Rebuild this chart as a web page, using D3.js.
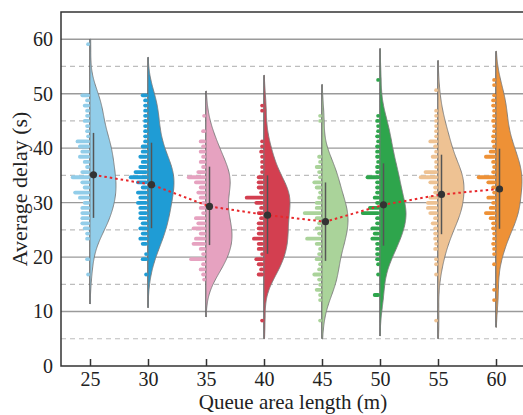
<!DOCTYPE html>
<html>
<head>
<meta charset="utf-8">
<script src="https://cdn.jsdelivr.net/npm/d3@7"></script>
<style>
  body { margin: 0; background: #fff; }
  svg { display: block; font-family: "Liberation Serif", "Times New Roman", serif; }
</style>
</head>
<body>
<div id="chart"></div>
<script>
// queue area length groups
const lengths = [25, 30, 35, 40, 45, 50, 55, 60];
const colors = ["#92cde9", "#1f9cd5", "#e6a2c0", "#d33f50", "#aad39a", "#2ea54c", "#eec293", "#ee9136"];
const means = [35.1, 33.3, 29.3, 27.7, 26.5, 29.6, 31.5, 32.5];
const q1 = [27.2, 25.3, 22.2, 20.6, 19.3, 22.1, 24.2, 25.2];
const q3 = [42.8, 41.0, 36.6, 35.0, 33.7, 37.2, 38.8, 39.9];
const lineMin = [11.4, 10.7, 9.0, 5.0, 5.0, 5.5, 5.0, 7.1];
const lineMax = [60.0, 56.7, 50.5, 53.4, 51.7, 58.3, 56.1, 57.8];
const yTicks = [0, 10, 20, 30, 40, 50, 60];
const yMinor = [5, 15, 25, 35, 45, 55];

// histogram of delays, same bins for every group: first bin at 59.1 s, 0.94 s apart
const binTop = 59.1, binStep = 0.94;
const counts25 = [1, 0,0,0,0,0,0,0,0,0, 4,2,3,2,2,3,2,2,1,6, 5,4,5,3,2,4,8,4,3,7, 5,3,4,4,4,4,3,2,2, 0,0,0, 2, 0,0, 1, 0,0,0,0,0,0,0,0,0];
const counts30 = [0,0,0,0,0,0,0,0,0,0, 3,2,2,2,2,2,2,2,2,2, 3,3,4,3,4,6,8,5,3,5, 4,5,4,4,4,3,4,3,4, 3,0,1,3,0,0,1, 0,0,0,0,0,0,0,0,0];
const counts35 = [0,0,0,0,0,0,0,0,0,0,0,0,0,0, 1,0,0,2,0, 3,2,3,2,3,2,4,8,5,3, 4,3,2,3,2,5,4,6,3,5, 6,3,2,7,2,3,2,1, 0,0,0,0,0,0,0,0];
const counts40 = [0,0,0,0,0,0,0,0,0,0,0,0, 1,1, 0,0,0,0,0, 1,1,2,1,1,1,1,3,3,3, 2,8,4,2,3,2,3,3,3,5, 3,3,1,4,3,2,3, 0,0,0,0,0,0,0,0, 1];
const counts45 = [0,0,0,0,0,0,0,0,0,0,0,0,0,0, 1,1, 0,0,0,0,0,0, 2,1,3,2,1,4,3,1,2,3, 3,8,3,2,3,2,7,3,1,2, 3,1,2,4,2,1,3,1,1, 0,0,0, 1];
const counts50 = [0,0,0,0,0,0,0, 1, 0,0,0,0,0,0, 1,2,1,1,2,1,2,2,2,1, 2,2,6,2,2,2,3,2,5,8, 2,2,4,3,4,2,2,2,2,1, 0, 1, 0,0,0, 3, 0,0,0,0,0];
const counts55 = [0,0,0,0,0,0,0,0,0, 1, 0,0,0, 1,1,1,1,1,1,4,2,1,3, 1,1,6,8,4,2,2,4,5,5, 4,2,3,2,2,2,1,2, 0, 1, 1, 0, 1, 0,0,0,0,0,0,0,0, 1];
const counts60 = [0,0,0,0,0,0,0, 1,1,0,1,2,2,1,1,2,1, 1,2,2,1,3,5,2,1,2,8, 4,2,1,4,2,3,5,3,2,2, 1,1,2,1,1, 0, 1, 0,0,0,0, 1, 0, 1, 0,0,0,0];
const counts = [counts25, counts30, counts35, counts40, counts45, counts50, counts55, counts60];

const width = 523, height = 415;
const margin = {top: 12, left: 61, bottom: 366, right: 525};

const svg = d3.select("#chart").append("svg")
    .attr("width", width)
    .attr("height", height);

const x = d3.scaleLinear().domain([22.5, 62.5]).range([margin.left, margin.right]);
const y = d3.scaleLinear().domain([0, 65]).range([margin.bottom, margin.top]);
const barLen = d3.scaleLinear().domain([0, 1]).range([0, 2.4]);   // px per count
const halfWidth = 26;
const bw = 3.1;

// grid
svg.append("g").selectAll("line").data(yMinor).enter().append("line")
    .attr("x1", margin.left).attr("x2", margin.right)
    .attr("y1", d => y(d)).attr("y2", d => y(d))
    .attr("stroke", "#bdbdbd").attr("stroke-width", 1.2)
    .attr("stroke-dasharray", "5,4");
svg.append("g").selectAll("line").data(yTicks.slice(1)).enter().append("line")
    .attr("x1", margin.left).attr("x2", margin.right)
    .attr("y1", d => y(d)).attr("y2", d => y(d))
    .attr("stroke", "#9a9a9a").attr("stroke-width", 1.4);

// one group per queue length
lengths.forEach((len, g) => {
  const cx = x(len);
  const bins = counts[g].map((c, j) => ({v: binTop - j * binStep, c: c})).filter(b => b.c > 0);

  // kernel density of the binned delays
  const kde = v => d3.sum(bins, b => b.c * Math.exp(-0.5 * Math.pow((v - b.v) / bw, 2)));
  const ys = d3.range(lineMin[g], lineMax[g], 0.2).concat([lineMax[g]]);
  const dens = ys.map(v => ({v: v, d: kde(v)}));
  const maxD = d3.max(dens, d => d.d);
  const w = d3.scaleLinear().domain([0, maxD]).range([0, halfWidth]);

  const grp = svg.append("g");

  grp.append("line")
      .attr("x1", cx).attr("x2", cx)
      .attr("y1", y(lineMin[g])).attr("y2", y(lineMax[g]))
      .attr("stroke", "#3a3a3a").attr("stroke-width", 1.2);

  const area = d3.area()
      .y(d => y(d.v))
      .x0(cx)
      .x1(d => cx + w(d.d))
      .curve(d3.curveBasis);

  grp.append("path")
      .datum(dens)
      .attr("d", area)
      .attr("fill", colors[g])
      .attr("stroke", "#7a7a7a")
      .attr("stroke-width", 0.9);

  // histogram bars to the left
  const cap = 1.9;
  grp.selectAll(".bar").data(bins).enter().append("line")
      .attr("class", "bar")
      .attr("x1", cx - cap)
      .attr("x2", d => Math.min(cx - cap, cx - barLen(d.c) + cap))
      .attr("y1", d => y(d.v)).attr("y2", d => y(d.v))
      .attr("stroke", colors[g])
      .attr("stroke-width", 3.8)
      .attr("stroke-linecap", "round");

  // interquartile range
  grp.append("line")
      .attr("x1", cx + 3.5).attr("x2", cx + 3.5)
      .attr("y1", y(q1[g])).attr("y2", y(q3[g]))
      .attr("stroke", "#555").attr("stroke-width", 1.5);
});

// mean trend
const meanLine = d3.line()
    .x((d, i) => x(lengths[i]) + 3.5)
    .y(d => y(d));

svg.append("path")
    .datum(means)
    .attr("d", meanLine)
    .attr("fill", "none")
    .attr("stroke", "#e8272b")
    .attr("stroke-width", 2)
    .attr("stroke-dasharray", "2.5,3");

svg.append("g").selectAll("circle").data(means).enter().append("circle")
    .attr("cx", (d, i) => x(lengths[i]) + 3.5)
    .attr("cy", d => y(d))
    .attr("r", 3.6)
    .attr("fill", "#333");

// axes
const xAxis = svg.append("g")
    .attr("transform", "translate(0," + margin.bottom + ")")
    .call(d3.axisBottom(x).tickValues(lengths).tickSize(-7).tickPadding(6));
xAxis.select(".domain").remove();
xAxis.selectAll("line").attr("stroke", "#333").attr("stroke-width", 1.5);
xAxis.selectAll("text").attr("font-size", 20).attr("font-family", "Liberation Serif").attr("fill", "#222");

const yAxis = svg.append("g")
    .attr("transform", "translate(" + margin.left + ",0)")
    .call(d3.axisLeft(y).tickValues(yTicks).tickSize(0).tickPadding(8));
yAxis.select(".domain").remove();
yAxis.selectAll("text").attr("font-size", 20).attr("font-family", "Liberation Serif").attr("fill", "#222");

// frame
svg.append("path")
    .attr("d", "M" + margin.right + "," + margin.top + "H" + margin.left + "V" + margin.bottom + "H" + margin.right)
    .attr("fill", "none")
    .attr("stroke", "#333")
    .attr("stroke-width", 1.5);

svg.append("text")
    .attr("x", (margin.left + margin.right) / 2)
    .attr("y", 409)
    .attr("text-anchor", "middle")
    .attr("font-size", 21)
    .attr("fill", "#222")
    .text("Queue area length (m)");

svg.append("text")
    .attr("transform", "translate(27," + (margin.top + margin.bottom) / 2 + ") rotate(-90)")
    .attr("text-anchor", "middle")
    .attr("font-size", 22)
    .attr("fill", "#222")
    .text("Average delay (s)");
</script>
</body>
</html>
